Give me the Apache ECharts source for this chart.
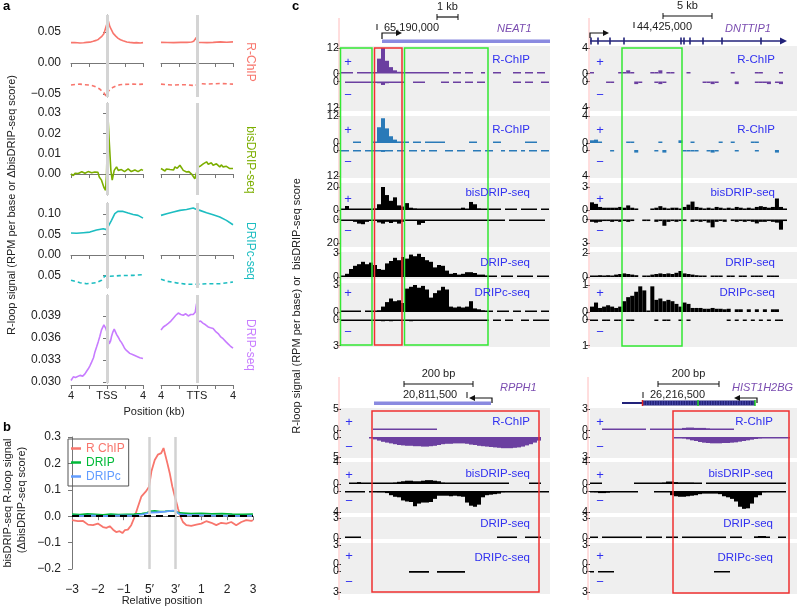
<!DOCTYPE html>
<html>
<head>
<meta charset="utf-8">
<title>R-loop profiles</title>
<script src="https://cdn.jsdelivr.net/npm/echarts@6/dist/echarts.min.js"></script>
<style>
  html, body { margin: 0; padding: 0; background: #fff; }
  #main { width: 800px; height: 608px; }
</style>
</head>
<body>
<div id="main"></div>
<script>
var FONT = '"Liberation Sans", Arial, Helvetica, sans-serif';
var _ = null, t = 0.05;

// ---- panel a : metagene profiles, [kb, value] ----
var rchipTss = [[-4,0.0328],[-3.6,0.0331],[-3,0.0323],[-2.6,0.0327],[-2.27,0.0333],[-1.9,0.0336],[-1.53,0.035],[-1.2,0.0365],[-0.97,0.038],[-0.61,0.0425],[-0.35,0.047],[-0.24,0.049],[-0.05,0.0613],[0.1,0.0704],[0.32,0.0586],[0.69,0.0478],[1.0,0.043],[1.24,0.0398],[1.5,0.0375],[1.79,0.036],[2.2,0.034],[2.53,0.0333],[3.0,0.0325],[3.27,0.0328],[3.7,0.0322],[4,0.0328]];
var rchipTssAnti = [[-4,-0.0355],[-3.5,-0.0345],[-3,-0.034],[-2.5,-0.035],[-1.9,-0.0355],[-1.5,-0.037],[-1.16,-0.039],[-0.8,-0.042],[-0.61,-0.0446],[-0.35,-0.048],[-0.13,-0.053],[0.13,-0.046],[0.4,-0.042],[0.69,-0.039],[1.0,-0.037],[1.42,-0.035],[2.0,-0.0345],[2.9,-0.034],[3.5,-0.0345],[4,-0.034]];
var rchipTts = [[-4,0.0333],[-3.3,0.033],[-2.6,0.0328],[-1.8,0.0332],[-1.1,0.0333],[-0.6,0.0338],[-0.37,0.035],[-0.15,0.037],[-0.07,0.0414],[0.08,0.0333],[0.5,0.033],[1.1,0.0328],[1.8,0.0332],[2.6,0.034],[3.3,0.0335],[4,0.034]];
var rchipTtsAnti = [[-4,-0.034],[-3.3,-0.035],[-2.6,-0.0355],[-1.8,-0.035],[-1.1,-0.035],[-0.5,-0.036],[-0.18,-0.037],[0.08,-0.033],[0.6,-0.0335],[1.1,-0.034],[1.8,-0.0335],[2.6,-0.033],[3.3,-0.0335],[4,-0.034]];
var bisTss = [[-4,0],[-3.85,0.0006],[-3.74,-0.0007],[-3.55,0.0004],[-3.37,0.001],[-3.2,0.0003],[-3,0.0002],[-2.8,0.0011],[-2.63,0.0013],[-2.45,0.0004],[-2.27,0.0008],[-2.1,0.0012],[-1.9,0.0018],[-1.7,0.0006],[-1.53,0.0002],[-1.35,0.001],[-1.16,0.0018],[-1.0,0.0008],[-0.86,-0.0015],[-0.61,-0.003],[-0.45,-0.0025],[-0.35,-0.0065],[-0.16,-0.008],[-0.05,0],[0.1,0.029],[0.24,0.0167],[0.43,0.0018],[0.58,-0.003],[0.8,0.0018],[0.95,0.001],[1.06,0.0035],[1.25,0.0018],[1.42,0.001],[1.6,0.0022],[1.79,0.0027],[1.95,0.0012],[2.16,0.0015],[2.35,0.0025],[2.53,0.0022],[2.7,0.0012],[2.9,0.0015],[3.1,0.002],[3.27,0.0027],[3.45,0.0012],[3.64,0.0005],[3.8,0.0022],[4,0.0018]];
var bisTts = [[-4,0.0027],[-3.8,0.0018],[-3.56,0.0015],[-3.4,0.0025],[-3.19,0.0018],[-3.0,0.0022],[-2.82,0.0027],[-2.6,0.002],[-2.45,0.0035],[-2.2,0.0028],[-1.9,0.0043],[-1.7,0.003],[-1.53,0.0018],[-1.35,0.0025],[-1.16,0.001],[-0.9,0.0012],[-0.6,0],[-0.4,-0.0008],[-0.24,-0.0023],[-0.05,-0.003],[0.13,0.0035],[0.4,0.004],[0.69,0.005],[0.85,0.0042],[1.06,0.006],[1.25,0.0048],[1.42,0.005],[1.6,0.0055],[1.79,0.0043],[2.0,0.0052],[2.16,0.005],[2.35,0.0042],[2.53,0.0035],[2.7,0.0045],[2.9,0.0035],[3.1,0.0042],[3.27,0.0038],[3.45,0.003],[3.64,0.0027],[3.8,0.0035],[4,0.0027]];
var dripcTss = [[-4,0.0537],[-3.37,0.053],[-2.63,0.0545],[-1.9,0.056],[-1.16,0.061],[-0.42,0.064],[-0.05,0.062],[0.13,0.066],[0.5,0.0846],[0.87,0.1008],[1.24,0.107],[1.79,0.1065],[2.35,0.1024],[2.9,0.099],[3.45,0.0968],[4,0.09]];
var dripcTssAnti = [[-4,-0.0618],[-3,-0.0675],[-2.27,-0.07],[-1.16,-0.0675],[-0.61,-0.0618],[-0.24,-0.051],[0.32,-0.052],[1.42,-0.0504],[2.9,-0.0496],[4,-0.048]];
var dripcTts = [[-4,0.0968],[-3.37,0.1008],[-2.63,0.105],[-1.9,0.109],[-1.16,0.111],[-0.42,0.1146],[-0.05,0.111],[0.32,0.109],[1.06,0.1033],[1.79,0.0984],[2.53,0.0927],[3.27,0.0846],[4,0.074]];
var dripcTtsAnti = [[-4,-0.059],[-3.37,-0.064],[-2.27,-0.068],[-1.16,-0.0715],[-0.05,-0.0715],[1.06,-0.07],[2.53,-0.07],[4,-0.066]];
var dripTss = [[-4,0.0302],[-3.74,0.0307],[-3.5,0.0306],[-3.0,0.0309],[-2.7,0.0308],[-2.45,0.0311],[-2.25,0.0315],[-2.08,0.0318],[-1.9,0.0322],[-1.71,0.0327],[-1.5,0.0333],[-1.34,0.0341],[-1.15,0.0348],[-0.97,0.0355],[-0.8,0.0362],[-0.61,0.0371],[-0.45,0.0375],[-0.35,0.0378],[-0.13,0.0373],[0.02,0.0367],[0.24,0.0352],[0.4,0.0356],[0.5,0.0362],[0.65,0.0368],[0.8,0.0372],[0.95,0.0368],[1.06,0.0365],[1.25,0.0361],[1.42,0.0357],[1.6,0.0354],[1.79,0.035],[1.95,0.0346],[2.16,0.0343],[2.35,0.0341],[2.53,0.0339],[2.7,0.0338],[2.9,0.0337],[3.1,0.0335],[3.27,0.0335],[3.45,0.0334],[3.64,0.0333],[3.8,0.0332],[4,0.0332]];
var dripTts = [[-4,0.0371],[-3.74,0.0375],[-3.5,0.0377],[-3.19,0.038],[-2.9,0.0383],[-2.63,0.0387],[-2.35,0.0391],[-2.08,0.0394],[-1.8,0.0392],[-1.53,0.0391],[-1.25,0.0393],[-0.97,0.039],[-0.7,0.0392],[-0.42,0.0392],[-0.2,0.0395],[-0.05,0.0407],[0.13,0.0382],[0.4,0.0383],[0.69,0.038],[0.95,0.0378],[1.24,0.0375],[1.5,0.0374],[1.79,0.0373],[2.05,0.0369],[2.35,0.0366],[2.6,0.0362],[2.9,0.0359],[3.2,0.0355],[3.45,0.0352],[3.7,0.0349],[4,0.0346]];
var ticksRchip = [-0.05, 0, 0.05];
var ticksBis = [0, 0.01, 0.02, 0.03];
var ticksDripc = [-0.05, 0, 0.05, 0.1];
var ticksDrip = [0.03, 0.033, 0.036, 0.039];

// ---- panel b : [relative position, score] ----
var bTickLabels = ['\u22123', '\u22122', '\u22121', '5\u2032', '3\u2032', '1', '2', '3'];
var bRchip = [[0,-0.015],[0.23,-0.019],[0.43,-0.018],[0.62,-0.032],[0.81,-0.034],[1.0,-0.028],[1.2,-0.041],[1.33,-0.044],[1.46,-0.038],[1.59,-0.051],[1.71,-0.06],[1.84,-0.057],[1.95,-0.064],[2.04,-0.053],[2.16,-0.051],[2.29,-0.034],[2.42,-0.003],[2.55,0.036],[2.68,0.074],[2.85,0.093],[2.98,0.112],[3.07,0.169],[3.2,0.213],[3.32,0.233],[3.45,0.239],[3.54,0.258],[3.61,0.252],[3.69,0.2],[3.78,0.163],[3.88,0.112],[3.98,0.074],[4.1,0.029],[4.19,0],[4.29,-0.022],[4.42,-0.034],[4.61,-0.037],[4.81,-0.032],[5.0,-0.028],[5.19,-0.019],[5.39,-0.025],[5.58,-0.034],[5.77,-0.025],[5.97,-0.028],[6.16,-0.022],[6.35,-0.034],[6.55,-0.022],[6.74,-0.015],[6.93,-0.018],[7.0,-0.015]];
var bDrip = [[0,0.008],[0.3,0.006],[0.6,0.009],[0.9,0.007],[1.2,0.005],[1.5,0.008],[1.8,0.006],[2.1,0.007],[2.4,0.008],[2.7,0.01],[2.9,0.013],[3.0,0.018],[3.2,0.02],[3.4,0.017],[3.6,0.018],[3.8,0.02],[4.0,0.019],[4.1,0.013],[4.3,0.012],[4.6,0.01],[5.0,0.011],[5.4,0.009],[5.8,0.01],[6.2,0.008],[6.6,0.007],[7,0.008]];
var bDripc = [[0,0.002],[0.4,0.001],[0.8,0.003],[1.2,0],[1.6,0.002],[2.0,0.003],[2.4,0.002],[2.8,0.008],[3.0,0.014],[3.3,0.015],[3.6,0.017],[3.9,0.021],[4.0,0.02],[4.15,0.008],[4.4,0.005],[4.8,0.004],[5.2,0.003],[5.6,0.002],[6.0,0.002],[6.5,0.001],[7,0.002]];

// ---- panel c : binned browser tracks ----
// NEAT1 (52 bins)
var neatRchip1Plus = [t,t,t,_,t,t,t,t, t,7,12,6,3,1.5,0.8,0.5, t,t,t,t,t,t,t,0.6,0.6,t,t,_,t,t,_,t, t,_,_,t,_,_,t,t,_,_,_,t,t,_,t,t,_,t,t,_];
var neatRchip1Minus = [_,t,t,t,t,t,t,t, t,0.8,1.6,0.8,t,t,t,t, _,_,t,t,t,_,_,_,_,t,t,_,t,t,_,t, t,_,t,0.5,_,_,_,_,_,_,_,t,t,_,t,t,_,_,t,t];
var neatRchip2Plus = [_,_,_,t,t,_,_,_, t,7,11,6.5,3,1.5,0.7,0.4, t,_,t,t,_,t,0.4,0.5,0.4,t,_,_,_,_,_,_, t,t,_,_,_,_,t,t,_,_,_,_,_,_,t,t,t,_,_,_];
var neatRchip2Minus = [t,t,_,t,t,_,t,t, t,0.5,0.9,0.5,t,_,t,t, _,t,t,_,t,_,t,t,_,_,t,t,_,t,t,_, _,t,t,_,t,t,_,_,t,_,t,t,_,t,_,t,t,_,t,t];
var neatBisPlus = [0.5,3.5,1,0.8,0.6,1,0.5,0.8, 1.5,5,20,13,8,11,4,3, 6,2,1.5,1,1.2,0.8,1,0.6,0.8,0.5,0.6,0.5,0.6,0.5,2,0.6, 7,5,1.5,1,1.2,0.8,0.5,0.3,_,t,t,t,_,t,t,t,t,_,t,t];
var neatBisMinus = [t,t,0.5,2,3.5,4,2,1, 1,2.5,3.5,2,3,2,3.5,2, 1,1,0.8,4.5,3,1,0.5,0.5,0.5,0.4,0.4,0.3,0.4,0.3,0.4,0.3, 0.4,0.3,0.4,0.3,0.3,t,t,t,t,_,t,t,t,t,t,t,t,t,t,_];
var neatDrip = [0.1,0.4,1.0,1.4,1.6,1.9,1.6,1.8, 1.5,1.0,0.9,1.7,2.0,2.4,2.1,2.5, 2.3,2.8,2.6,2.9,2.5,2.1,1.9,1.2,1.5,1.4,0.8,0.4,0.5,0.3,0.4,0.6, 0.6,0.5,0.3,0.3,0.2,0.15,0.15,_,0.15,0.15,0.15,_,0.15,0.15,0.15,0.15,_,0.15,0.15,0.15];
var neatDripcPlus = [0.15,0.15,0.15,0.15,0.15,_,0.15,0.15, 0.15,0.2,0.6,1.1,1.5,1.2,1.3,1.0, 2.6,2.8,3.0,2.7,2.9,2.5,1.6,2.1,2.4,2.8,2.5,0.6,0.5,0.6,0.5,0.6, 1.2,0.4,0.3,0.2,0.15,0.15,_,0.15,0.15,0.15,_,0.15,0.15,_,0.15,0.15,0.15,_,0.15,0.15];
var neatDripcMinus = [t,t,t,t,t,t,t,t, t,t,0.2,t,0.2,t,t,t, t,0.2,t,t,t,t,t,t,t,t,t,t,t,t,t,t, t,t,t,t,t,_,t,t,_,t,t,_,_,t,t,_,t,t,t,t];
// DNTTIP1 (49 bins)
var dntRchip1Plus = [t,_,_,_,_,_,_, t,t,0.5,t,_,_,_, _,t,t,0.5,_,t,t, _,_,_,t,_,_,_, _,_,_,_,_,_,_, t,_,_,_,_,_,t, t,_,_,_,_,t,_];
var dntRchip1Minus = [_,_,_,_,t,t,_, _,_,_,_,0.4,t,_, _,_,t,0.4,t,_,_, _,_,_,_,_,_,_, t,t,0.4,t,_,_,_, _,0.4,_,_,_,_,t, t,t,0.4,_,t,0.4,_];
var dntRchip2Plus = [0.4,0.5,t,_,_,_,_, _,_,t,t,_,_,_, _,_,_,t,_,_,_, _,0.4,_,_,t,_,_, _,_,_,_,t,_,_, t,_,_,_,_,t,t, _,_,_,_,_,_,_];
var dntRchip2Minus = [_,_,_,_,_,t,_, _,_,_,_,0.4,_,_, _,_,t,_,0.4,_,_, _,_,t,t,t,t,_, _,t,0.4,t,_,_,_, _,t,_,_,_,_,t, _,_,_,_,0.4,_,_];
var dntBisPlus = [1.0,0.8,0.4,0.3,0.3,0.3,0.3, 0.4,0.3,0.6,0.3,0.2,_,_, _,0.2,0.3,0.5,0.3,0.2,0.3, 0.3,0.2,0.4,0.7,1.1,0.4,0.3, 0.2,0.3,0.2,0.4,0.3,0.2,0.3, 0.2,0.4,0.3,0.2,0.3,0.2,0.4, 0.5,0.4,0.3,0.4,1.5,0.4,0.2];
var dntBisMinus = [0.3,0.4,0.3,0.2,0.2,0.3,0.2, 0.3,0.2,0.3,0.2,_,_,0.2, 0.2,_,0.3,0.2,0.8,0.3,0.2, 0.3,0.2,0.2,_,0.3,0.2,0.3, 0.2,0.4,1.0,0.3,0.2,0.3,_, 0.2,0.3,0.2,0.3,0.2,0.3,0.5, 0.3,0.3,0.2,0.3,0.4,1.3,0.2];
var dntDrip = [0.1,0.1,0.15,0.1,0.15,0.1,0.2, 0.25,0.3,0.25,0.2,0.15,_,0.1, 0.1,0.2,0.25,0.3,0.25,0.3,0.25, 0.35,0.5,0.3,0.25,0.2,0.15,0.1, 0.1,_,0.1,0.1,0.1,_,0.1, 0.1,_,0.1,0.1,_,0.1,0.1, 0.1,_,0.1,0.1,0.1,_,_];
var dntDripcPlus = [0.2,0.35,0.15,0.2,0.25,0.2,0.15, 0.2,0.4,0.55,0.6,0.75,0.95,0.8, 0.05,0.95,0.45,0.5,0.4,0.45,0.4, 0.3,0.2,0.35,0.3,0.15,0.15,0.15, 0.12,0.12,0.15,0.12,0.12,0.1,0.12, _,0.1,0.1,_,0.1,_,0.1, _,0.1,_,0.1,0.1,_,_];
var dntDripcMinus = [t,t,_,t,t,_,t, t,_,t,t,_,_,_, _,_,t,_,t,t,_, _,t,_,t,_,_,_, _,_,_,_,_,_,t, _,t,_,t,_,t,_, t,_,t,_,t,t,_];
// RPPH1 (52 bins)
var rpphRchipPlus = [_,_,_,_,_,_,_,_, 0.2,0.35,0.35,0.35,0.35,0.35,0.35,0.35, 0.35,0.35,0.35,0.35,0.35,0.35,0.35,0.35,_,_,_,_,_,_,_,_, _,_,_,_,_,_,_,_,_,_,_,_,_,_,_,_,_,_,_,_];
var rpphRchipMinus = [_,_,_,_,_,_,_,0.3, 0.6,0.9,1.2,1.4,1.6,1.8,2.0,2.1, 2.2,2.2,2.3,2.3,2.4,2.4,2.3,2.2,2.0,1.8,1.7,1.7,1.6,1.6,1.6,1.7, 1.9,2.0,2.2,2.3,2.4,2.5,2.6,2.7,2.8,2.8,2.8,2.7,2.6,2.4,2.1,1.8,1.4,0.9,_,_];
var rpphBisPlus = [_,_,0.12,0.12,0.35,0.12,0.12,0.12, 0.15,0.15,0.15,0.15,0.15,0.3,0.4,0.5, 0.6,0.6,0.5,0.5,0.6,0.7,0.7,0.6,0.5,0.3,0.15,0.15,0.15,0.15,0.15,0.15, 0.15,0.15,0.15,0.15,0.15,0.15,0.15,0.15,0.15,0.15,_,_,_,_,_,0.12,0.12,0.12,_,_];
var rpphBisMinus = [_,0.12,0.12,0.12,0.12,0.12,_,0.15, 0.2,0.3,0.3,0.4,0.8,1.1,1.2,1.8, 2.0,2.1,2.9,2.4,2.2,2.2,2.1,1.5,0.9,0.9,0.9,1.0,0.9,1.0,1.1,2.2, 2.8,3.0,2.6,1.2,0.8,0.7,0.6,0.5,0.3,0.25,0.2,0.2,0.15,0.15,0.15,0.15,0.15,0.15,0.15,0.15];
var rpphDrip = [_,0.15,0.15,0.15,0.15,_,_,_, _,_,_,_,_,_,_,_, _,_,_,_,_,_,_,_,_,_,_,_,_,_,_,_, _,_,_,_,_,_,_,0.15,0.15,0.15,0.15,0.15,_,_,0.15,0.15,0.15,0.15,_,_];
var rpphDripcPlus = [_,_,_,_,_,_,_,_, _,_,_,_,_,_,_,_, _,_,_,_,_,_,_,_,_,_,_,_,_,_,_,_, _,_,_,_,_,_,_,_,_,_,_,_,_,_,_,_,_,_,_,_];
var rpphDripcMinus = [_,_,_,_,_,_,_,_, _,_,_,_,_,_,_,_, _,0.25,0.25,0.25,0.25,0.25,_,_,0.25,0.25,0.25,0.25,0.25,0.25,0.25,_, _,_,_,_,_,_,_,_,_,_,_,_,_,_,_,_,_,_,_,_];
// HIST1H2BG (50 bins)
var histRchipPlus = [_,_,_,t,t,t,t,t,t,t, t,t,t,t,_,t,t,t,t,t, t,t,0.2,0.3,0.35,0.35,0.3,0.3,0.3,0.25, 0.2,0.15,t,t,t,t,_,_,_,_, _,_,_,_,_,_,_,_,_,_];
var histRchipMinus = [_,_,_,_,_,_,_,_,_,_, _,_,_,_,_,_,_,_,_,_, _,0.1,0.15,0.25,0.35,0.5,0.6,0.75,0.85,0.9, 0.95,0.95,0.95,0.9,0.9,0.85,0.8,0.7,0.6,0.5, 0.4,0.3,0.25,0.2,0.15,0.15,0.12,0.1,0.1,0.1];
var histBisPlus = [0.12,0.2,0.15,_,_,_,_,_,_,_, _,0.12,0.12,0.12,0.12,0.12,0.12,0.12,0.3,0.45, 0.45,0.35,0.3,0.3,0.3,0.3,0.25,0.2,_,0.12, 0.12,0.12,0.12,0.12,0.2,0.2,0.15,0.12,0.12,0.12, 0.12,0.12,0.12,0.12,0.12,0.12,0.12,0.12,0.12,_];
var histBisMinus = [0.12,0.3,0.4,0.4,0.35,0.2,0.12,0.12,0.12,0.12, 0.12,0.12,_,_,_,_,0.12,0.12,0.15,0.2, 0.8,1.0,1.1,1.1,1.0,0.9,0.8,0.6,0.5,0.5, 0.5,0.5,0.6,1.0,1.2,1.5,2.0,3.0,3.4,3.3, 2.4,1.2,0.8,0.3,0.15,0.12,0.12,0.12,0.12,_];
var histDrip = [0.15,0.15,_,0.15,0.15,0.15,0.15,0.15,0.15,0.15, 0.15,0.15,0.15,_,0.15,0.15,0.15,0.15,_,0.15, 0.15,0.15,_,0.15,0.15,0.15,0.2,0.15,0.15,0.15, 0.15,0.2,0.15,0.15,_,0.15,0.15,0.15,_,_, _,0.25,0.3,0.3,0.2,_,_,0.15,0.15,_];
var histDripcPlus = [_,_,_,_,_,_,_,_,_,_, _,_,_,_,_,_,_,_,_,_, _,_,_,_,_,_,_,_,_,_, _,_,_,_,_,_,_,_,_,_, _,_,_,_,_,_,_,_,_,_];
var histDripcMinus = [0.15,_,0.15,0.15,0.15,0.15,_,_,_,_, _,_,_,_,_,_,_,_,_,_, _,_,_,_,_,_,_,_,_,_, _,0.15,0.15,0.15,0.15,_,_,_,_,_, _,_,_,_,_,_,_,_,_,_];

var grids = [], xAxes = [], yAxes = [], series = [];

// ---------- panel a ----------
var aRows = [
  {top: 15, h: 82, min: -0.0548, max: 0.0774, ticks: ticksRchip, color: '#f8766d',
   fmt: function (v) { return (v < 0 ? '\u2212' : '') + Math.abs(v).toFixed(2); },
   sides: [[rchipTss, rchipTssAnti], [rchipTts, rchipTtsAnti]]},
  {top: 103, h: 92, min: -0.0103, max: 0.0349, ticks: ticksBis, color: '#7cae00',
   fmt: function (v) { return v.toFixed(2); }, sides: [[bisTss], [bisTts]]},
  {top: 203, h: 85, min: -0.0805, max: 0.127, ticks: ticksDripc, color: '#1dbdc1',
   fmt: function (v) { return Math.abs(v).toFixed(2); },
   sides: [[dripcTss, dripcTssAnti], [dripcTts, dripcTtsAnti]]},
  {top: 295, h: 88, min: 0.02986, max: 0.04186, ticks: ticksDrip, color: '#c77cff',
   fmt: function (v) { return v.toFixed(3); }, sides: [[dripTss], [dripTts]]}
];
aRows.forEach(function (r, ri) {
  [0, 1].forEach(function (side) {
    var gi = grids.length;
    grids.push({left: side ? 161 : 71, top: r.top, width: 72, height: r.h, outerBoundsMode: 'none'});
    xAxes.push({gridIndex: gi, type: 'value', min: -4, max: 4, interval: 2, offset: 2,
      axisLine: {show: true, lineStyle: {color: '#777'}},
      axisTick: {show: true, length: 4, lineStyle: {color: '#777'}},
      splitLine: {show: false},
      axisLabel: {show: ri === 3, margin: 5, fontSize: 11, color: '#222', fontFamily: FONT,
        showMinLabel: true, showMaxLabel: true,
        formatter: function (v) { return v === 0 ? (side ? 'TTS' : 'TSS') : (Math.abs(v) === 4 ? '4' : ''); }}});
    yAxes.push({gridIndex: gi, type: 'value', min: r.min, max: r.max, show: side === 0, offset: 8,
      axisLine: {show: true, lineStyle: {color: '#777'}},
      axisTick: {show: true, length: 4, customValues: r.ticks, lineStyle: {color: '#777'}},
      axisLabel: {customValues: r.ticks, formatter: r.fmt, fontSize: 12, color: '#222', margin: 2, fontFamily: FONT},
      splitLine: {show: false}});
    series.push({type: 'line', xAxisIndex: gi, yAxisIndex: gi, z: 1, silent: true,
      data: [[0, r.min]], symbol: 'none', lineStyle: {opacity: 0},
      markLine: {silent: true, symbol: 'none', label: {show: false},
        lineStyle: {color: '#d4d4d4', width: 3, type: 'solid'}, data: [{xAxis: 0}]}});
    r.sides[side].forEach(function (d, k) {
      series.push({type: 'line', xAxisIndex: gi, yAxisIndex: gi, z: 3, data: d, symbol: 'none',
        showSymbol: false, silent: true,
        lineStyle: {color: r.color, width: 1.6, type: k === 1 ? [4, 3] : 'solid'}});
    });
  });
});

// ---------- panel b ----------
var bi = grids.length;
grids.push({left: 72, top: 437, width: 181, height: 132, outerBoundsMode: 'none'});
xAxes.push({gridIndex: bi, type: 'value', min: 0, max: 7, interval: 1, offset: 9,
  axisLine: {show: true, lineStyle: {color: '#777'}},
  axisTick: {show: true, length: 4, lineStyle: {color: '#777'}},
  splitLine: {show: false},
  axisLabel: {margin: 6, fontSize: 12, color: '#222', fontFamily: FONT,
    formatter: function (v) { return bTickLabels[Math.round(v)]; }}});
yAxes.push({gridIndex: bi, type: 'value', min: -0.2, max: 0.3, interval: 0.1, offset: 9,
  axisLine: {show: true, lineStyle: {color: '#777'}},
  axisTick: {show: true, length: 4, lineStyle: {color: '#777'}},
  splitLine: {show: false},
  axisLabel: {margin: 2, fontSize: 12, color: '#222', fontFamily: FONT,
    formatter: function (v) { return (v < -1e-9 ? '\u2212' : '') + Math.abs(v).toFixed(1); }}});
series.push({type: 'line', name: 'ref', xAxisIndex: bi, yAxisIndex: bi, z: 1, silent: true,
  data: [[0, 0]], symbol: 'none', lineStyle: {opacity: 0},
  markLine: {silent: true, symbol: 'none', label: {show: false},
    lineStyle: {color: '#d2d2d2', width: 2.5, type: 'solid'}, data: [{xAxis: 3}, {xAxis: 4}]}});
series.push({type: 'line', name: 'R ChIP', xAxisIndex: bi, yAxisIndex: bi, z: 3, data: bRchip,
  symbol: 'none', silent: true, lineStyle: {color: '#f8766d', width: 1.8}, itemStyle: {color: '#f8766d'}});
series.push({type: 'line', name: 'DRIP', xAxisIndex: bi, yAxisIndex: bi, z: 3, data: bDrip,
  symbol: 'none', silent: true, lineStyle: {color: '#00ba38', width: 1.8}, itemStyle: {color: '#00ba38'}});
series.push({type: 'line', name: 'DRIPc', xAxisIndex: bi, yAxisIndex: bi, z: 3, data: bDripc,
  symbol: 'none', silent: true, lineStyle: {color: '#619cff', width: 1.8}, itemStyle: {color: '#619cff'}});
series.push({type: 'line', name: 'zero', xAxisIndex: bi, yAxisIndex: bi, z: 4, silent: true,
  data: [[0, 0]], symbol: 'none', lineStyle: {opacity: 0},
  markLine: {silent: true, symbol: 'none', label: {show: false},
    lineStyle: {color: '#000', width: 1.8, type: [7, 5]}, data: [{yAxis: 0}]}});

// ---------- panel c ----------
function track(left, width, top, height, data, max, color, inv) {
  var gi = grids.length;
  grids.push({left: left, top: top, width: width, height: height, outerBoundsMode: 'none'});
  xAxes.push({gridIndex: gi, type: 'category', show: false, data: data.map(function (d, i) { return i; })});
  yAxes.push({gridIndex: gi, type: 'value', min: 0, max: max, inverse: !!inv,
    axisLine: {show: false}, splitLine: {show: false},
    axisTick: {show: true, length: 4, customValues: [0, max], lineStyle: {color: '#333'}},
    axisLabel: {customValues: [0, max], fontSize: 11, color: '#111', margin: 2, fontFamily: FONT}});
  series.push({type: 'bar', xAxisIndex: gi, yAxisIndex: gi, data: data, barCategoryGap: '0%',
    barMinHeight: 1.5, silent: true, itemStyle: {color: color}});
}
var PUR = '#6b3fa0', BLU = '#2a7ab8', BLK = '#000';
var topRows = [[48, 25.5, 0], [81.5, 26, 1], [116, 27, 0], [150, 26, 1], [187, 23, 0], [219.5, 23.5, 1], [253, 24, 0], [285, 27, 0], [319.5, 26, 1]];
var botRows = [[409, 21, 0], [437, 20, 1], [462, 22, 0], [491, 21, 1], [518, 20, 0], [545, 19, 0], [571, 21, 1]];
function panel(left, width, rows, tracks) {
  tracks.forEach(function (tr, i) { track(left, width, rows[i][0], rows[i][1], tr[0], tr[1], tr[2], rows[i][2]); });
}
panel(341, 208, topRows, [[neatRchip1Plus, 12, PUR], [neatRchip1Minus, 12, PUR], [neatRchip2Plus, 12, BLU], [neatRchip2Minus, 12, BLU],
  [neatBisPlus, 20, BLK], [neatBisMinus, 20, BLK], [neatDrip, 3, BLK], [neatDripcPlus, 3, BLK], [neatDripcMinus, 3, BLK]]);
panel(590, 197, topRows, [[dntRchip1Plus, 4, PUR], [dntRchip1Minus, 4, PUR], [dntRchip2Plus, 4, BLU], [dntRchip2Minus, 4, BLU],
  [dntBisPlus, 3, BLK], [dntBisMinus, 3, BLK], [dntDrip, 2, BLK], [dntDripcPlus, 1, BLK], [dntDripcMinus, 1, BLK]]);
panel(341, 208, botRows, [[rpphRchipPlus, 5, PUR], [rpphRchipMinus, 5, PUR], [rpphBisPlus, 4, BLK], [rpphBisMinus, 4, BLK],
  [rpphDrip, 3, BLK], [rpphDripcPlus, 3, BLK], [rpphDripcMinus, 3, BLK]]);
panel(590, 200, botRows, [[histRchipPlus, 3, PUR], [histRchipMinus, 3, PUR], [histBisPlus, 4, BLK], [histBisMinus, 4, BLK],
  [histDrip, 3, BLK], [histDripcPlus, 3, BLK], [histDripcMinus, 3, BLK]]);

// ---------- drawn annotations ----------
var G = [];
function T(x, y, s, o) {
  o = o || {};
  var f = (o.italic ? 'italic ' : '') + (o.bold ? 'bold ' : '') + (o.size || 11) + 'px ' + FONT;
  G.push({type: 'text', x: x, y: y, rotation: o.rot || 0, z: 20, silent: true,
    style: {text: s, fill: o.color || '#222', font: f, textAlign: o.align || 'left', textVerticalAlign: 'middle',
      align: o.align || 'left', verticalAlign: 'middle'}});
}
function L(x1, y1, x2, y2, c, w) {
  G.push({type: 'line', z: 15, silent: true, shape: {x1: x1, y1: y1, x2: x2, y2: y2}, style: {stroke: c, lineWidth: w || 1}});
}
function R(x, y, w, h, fill, stroke, lw, z) {
  G.push({type: 'rect', z: z || 0, silent: true, shape: {x: x, y: y, width: w, height: h},
    style: {fill: fill || 'none', stroke: stroke || null, lineWidth: lw || 0}});
}
function P(pts, c) { G.push({type: 'polygon', z: 15, silent: true, shape: {points: pts}, style: {fill: c}}); }
function PL(pts, c) { G.push({type: 'polyline', z: 15, silent: true, shape: {points: pts}, style: {stroke: c, fill: null, lineWidth: 1.2}}); }

// panel a / b text
T(3, 6, 'a', {bold: true, size: 13, color: '#000'});
T(12, 205, 'R-loop signal (RPM per base or \u0394bisDRIP-seq score)', {rot: Math.PI / 2, align: 'center'});
T(250, 62, 'R-ChIP', {rot: -Math.PI / 2, align: 'center', size: 12, color: '#f8766d'});
T(250, 160, 'bisDRIP-seq', {rot: -Math.PI / 2, align: 'center', size: 12, color: '#7cae00'});
T(250, 251, 'DRIPc-seq', {rot: -Math.PI / 2, align: 'center', size: 12, color: '#1dbdc1'});
T(250, 345, 'DRIP-seq', {rot: -Math.PI / 2, align: 'center', size: 12, color: '#c77cff'});
T(154, 412, 'Position (kb)', {align: 'center'});
T(3, 427, 'b', {bold: true, size: 13, color: '#000'});
T(8, 503, 'bisDRIP-seq R-loop signal', {rot: Math.PI / 2, align: 'center'});
T(22, 500, '(\u0394bisDRIP-seq score)', {rot: Math.PI / 2, align: 'center'});
T(162, 601, 'Relative position', {align: 'center'});

// panel c frame
T(292, 6, 'c', {bold: true, size: 13, color: '#000'});
T(297, 306, 'R-loop signal (RPM per base) or  bisDRIP-seq score', {rot: Math.PI / 2, align: 'center'});
[[46, 65], [116, 62], [183, 64], [252, 27], [283, 64]].forEach(function (b) { R(340, b[0], 210, b[1], '#efefef'); R(590, b[0], 207, b[1], '#efefef'); });
[[408, 50], [462, 51], [517, 22], [543, 51]].forEach(function (b) { R(340, b[0], 210, b[1], '#efefef'); R(590, b[0], 207, b[1], '#efefef'); });
L(339, 18, 339, 348, '#ffbcbc', 1); L(589, 18, 589, 348, '#ffbcbc', 1);
L(339, 377, 339, 600, '#ffbcbc', 1); L(588, 377, 588, 600, '#ffbcbc', 1);
R(340.5, 48, 31.5, 297, 'none', '#33e833', 1.5, 18);
R(374.5, 48, 27.5, 297, 'none', '#f03030', 1.5, 18);
R(404.5, 48, 83.5, 297, 'none', '#33e833', 1.5, 18);
R(622, 48, 60, 298, 'none', '#33e833', 1.5, 18);
R(372, 411, 167, 181, 'none', '#f03030', 1.5, 18);
R(673, 411, 116, 182, 'none', '#f03030', 1.5, 18);

// track captions and strand marks
var LB = '#3030f0';
function captions(xs, xr, rowsY, plusMinus) {
  rowsY.forEach(function (c) { T(xr, c[0], c[1], {align: 'right', size: 11.5, color: LB}); });
  plusMinus.forEach(function (y, i) { T(xs, y, i % 2 ? '\u2212' : '+', {align: 'center', size: 13, color: LB}); });
}
var topCap = [[60, 'R-ChIP'], [130, 'R-ChIP'], [193, 'bisDRIP-seq'], [263, 'DRIP-seq'], [293, 'DRIPc-seq']];
var topPM = [62, 95, 130, 162, 199, 231, 293, 332];
var botCap = [[422, 'R-ChIP'], [474, 'bisDRIP-seq'], [524, 'DRIP-seq'], [558, 'DRIPc-seq']];
var botPM = [422, 447, 475, 501, 556, 582];
captions(348, 530, topCap, topPM);
captions(600, 775, topCap, topPM);
captions(349, 530, botCap, botPM);
captions(600, 773, botCap, botPM);

// gene models and scale bars
var GENE = '#8a8ae0', NAVY = '#22227a', GTXT = '#7a4cb0';
function scaleBar(x1, x2, y, label) {
  L(x1, y, x2, y, '#111', 1.2); L(x1, y - 3, x1, y + 3, '#111', 1); L(x2, y - 3, x2, y + 3, '#111', 1);
  T((x1 + x2) / 2, y - 10, label, {align: 'center'});
}
scaleBar(437, 458, 17, '1 kb');
L(377, 24, 377, 30, '#111', 1); T(384, 28, '65,190,000');
T(497, 29, 'NEAT1', {italic: true, color: GTXT});
R(382, 39.5, 168, 3.5, GENE, null, 0, 5);
PL([[382, 39], [382, 33], [397, 33]], '#111'); P([[396, 30], [402, 33], [396, 36]], '#111');

scaleBar(663, 712, 16, '5 kb');
L(634, 22, 634, 28, '#111', 1); T(637, 27, '44,425,000');
T(725, 29, 'DNTTIP1', {italic: true, color: GTXT});
L(590, 41, 782, 41, NAVY, 1.6);
[591, 598, 610, 624, 681, 684, 690, 703, 722, 761].forEach(function (x) { L(x, 37.5, x, 44.5, NAVY, 1.6); });
P([[780, 37.5], [787, 41], [780, 44.5]], NAVY);
PL([[590, 38], [590, 33], [604, 33]], '#111'); P([[603, 30], [609, 33], [603, 36]], '#111');

scaleBar(404, 473, 384, '200 bp');
L(467, 392, 467, 398, '#111', 1); T(403, 395, '20,811,500');
T(500, 388, 'RPPH1', {italic: true, color: GTXT});
R(374, 401.5, 117, 3.5, GENE, null, 0, 5);
PL([[492, 403], [492, 398], [474, 398]], '#111'); P([[475, 395], [469, 398], [475, 401]], '#111');

scaleBar(658, 719, 384, '200 bp');
L(643, 392, 643, 398, '#111', 1); T(650, 395, '26,216,500');
T(732, 388, 'HIST1H2BG', {italic: true, color: GTXT});
L(622, 403, 642, 403, NAVY, 2);
R(642, 400.5, 113, 5, NAVY, null, 0, 5);
for (var sx = 644; sx < 755; sx += 2.6) { L(sx, 401, sx, 405, '#6a6ad0', 0.6); }
L(642.5, 400, 642.5, 406, '#e02020', 1.5); L(698, 400, 698, 406, '#20d020', 1.5); L(755, 400, 755, 406, '#20d020', 1.5);
PL([[757, 403], [757, 398], [739, 398]], '#111'); P([[740, 395], [734, 398], [740, 401]], '#111');

var chart = echarts.init(document.getElementById('main'));
chart.setOption({
  animation: false,
  grid: grids, xAxis: xAxes, yAxis: yAxes, series: series,
  legend: {show: true, left: 68, top: 439, orient: 'vertical', selectedMode: false,
    borderColor: '#555', borderWidth: 1, padding: [3, 4, 3, 3], itemGap: 1,
    itemWidth: 10, itemHeight: 2.5, icon: 'rect',
    textStyle: {fontSize: 12, fontFamily: FONT, lineHeight: 13},
    data: [{name: 'R ChIP', textStyle: {color: '#f8766d'}}, {name: 'DRIP', textStyle: {color: '#00ba38'}}, {name: 'DRIPc', textStyle: {color: '#619cff'}}]},
  graphic: {elements: G}
});
</script>
</body>
</html>
